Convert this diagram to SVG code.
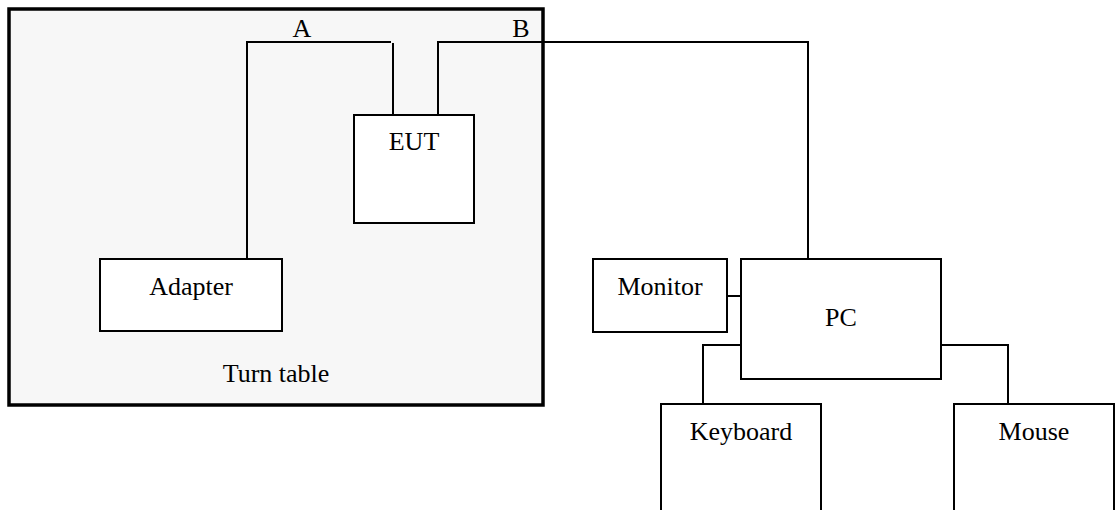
<svg xmlns="http://www.w3.org/2000/svg" width="1117" height="510" viewBox="0 0 1117 510">
<style>
text{font-family:"Liberation Serif","Times New Roman",serif;font-size:26px;fill:#000;text-anchor:middle}
.box{fill:#fff;stroke:#000;stroke-width:2}
.wire{fill:none;stroke:#000;stroke-width:2}
</style>
<rect width="1117" height="510" fill="#fff"/>
<g id="turntable">
<rect x="9" y="9" width="534" height="396" fill="#f7f7f7" stroke="#000" stroke-width="3.5"/>
<text x="276" y="382">Turn table</text>
</g>
<g id="connectors">
<path class="wire" d="M247,259 V42 H391"/>
<path class="wire" d="M393,43 V115"/>
<path class="wire" d="M438,115 V42 H808 V259"/>
<path class="wire" d="M727,296 H741"/>
<path class="wire" d="M741,345 H703 V404"/>
<path class="wire" d="M941,345 H1008 V404"/>
<text x="302" y="37">A</text>
<text x="521" y="37">B</text>
</g>
<g id="adapter">
<rect class="box" x="100" y="259" width="182" height="72"/>
<text x="191" y="295">Adapter</text>
</g>
<g id="eut">
<rect class="box" x="354" y="115" width="120" height="108"/>
<text x="414" y="150">EUT</text>
</g>
<g id="monitor">
<rect class="box" x="593" y="259" width="134" height="73"/>
<text x="660" y="295">Monitor</text>
</g>
<g id="pc">
<rect class="box" x="741" y="259" width="200" height="120"/>
<text x="841" y="326">PC</text>
</g>
<g id="keyboard">
<rect class="box" x="661" y="404" width="160" height="110"/>
<text x="741" y="440">Keyboard</text>
</g>
<g id="mouse">
<rect class="box" x="954" y="404" width="160" height="110"/>
<text x="1034" y="440">Mouse</text>
</g>
</svg>
